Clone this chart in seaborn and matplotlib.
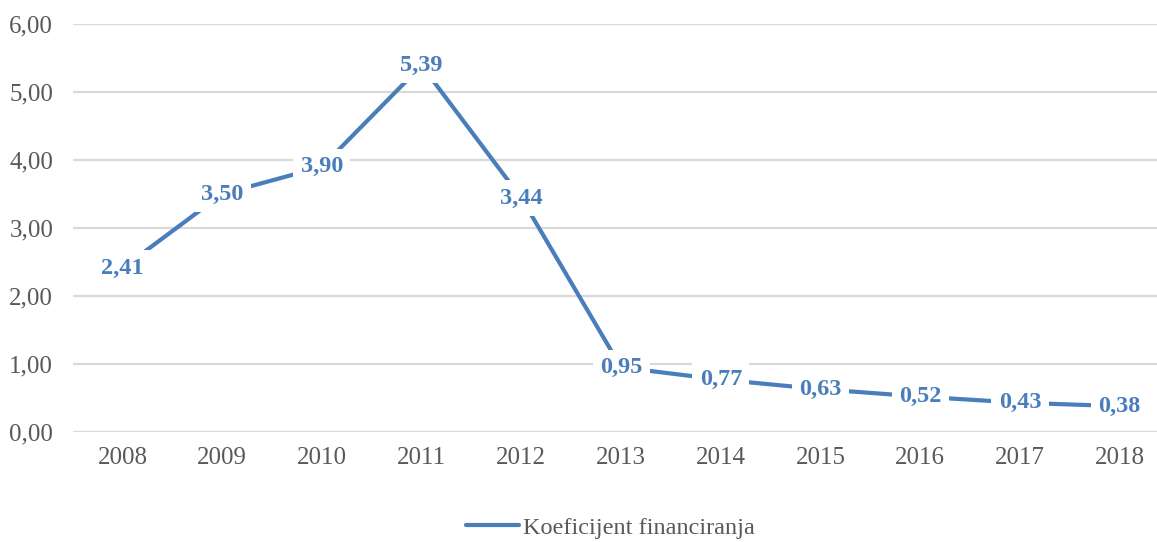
import pandas as pd
import matplotlib
matplotlib.use("Agg")
import matplotlib.pyplot as plt
import seaborn as sns

years = ["2008", "2009", "2010", "2011", "2012", "2013", "2014", "2015", "2016", "2017", "2018"]
koeficijent = [2.41, 3.50, 3.90, 5.39, 3.44, 0.95, 0.77, 0.63, 0.52, 0.43, 0.38]
y_ticks = [0, 1, 2, 3, 4, 5, 6]
series_name = "Koeficijent financiranja"

df = pd.DataFrame({"godina": years, "vrijednost": koeficijent})

sns.set_style("white")
plt.rcParams["font.family"] = ["Liberation Serif", "DejaVu Serif"]

line_color = "#4A7EBB"
text_gray = "#595959"

fig = plt.figure(figsize=(11.57, 5.42), dpi=100)
ax = fig.add_axes([72.6 / 1157, 1 - 432 / 542, 1097 / 1157, 408 / 542])

sns.lineplot(data=df, x="godina", y="vrijednost", ax=ax, color=line_color,
             linewidth=3.0, sort=False, label=series_name, zorder=3)

# data labels centred on points, white box hides the line underneath
for i, v in enumerate(koeficijent):
    ax.text(i, v, f"{v:.2f}".replace(".", ","), ha="center", va="center",
            fontsize=17.5, fontweight="bold", color=line_color, zorder=4,
            bbox=dict(boxstyle="square,pad=0.3", fc="white", ec="none"))

ax.set_xlim(-0.5, len(years) - 0.5)
ax.set_ylim(0, 6)
ax.set_yticks(y_ticks)
ax.set_yticklabels([f"{t:.2f}".replace(".", ",") for t in y_ticks])
ax.grid(axis="y", color="#D9D9D9", linewidth=1.6, zorder=0)
ax.set_axisbelow(True)
for s in ax.spines.values():
    s.set_visible(False)
ax.tick_params(axis="both", length=0, labelsize=18, labelcolor=text_gray)
ax.tick_params(axis="y", pad=14)
ax.tick_params(axis="x", pad=11)
ax.set_xlabel("")
ax.set_ylabel("")

ax.legend(loc="center", bbox_to_anchor=(610 / 1157, 0.026), bbox_transform=fig.transFigure,
          frameon=False, fontsize=17.5, handlelength=2.2, handletextpad=0.15,
          labelcolor=text_gray)

fig.savefig("out.png", dpi=100)
